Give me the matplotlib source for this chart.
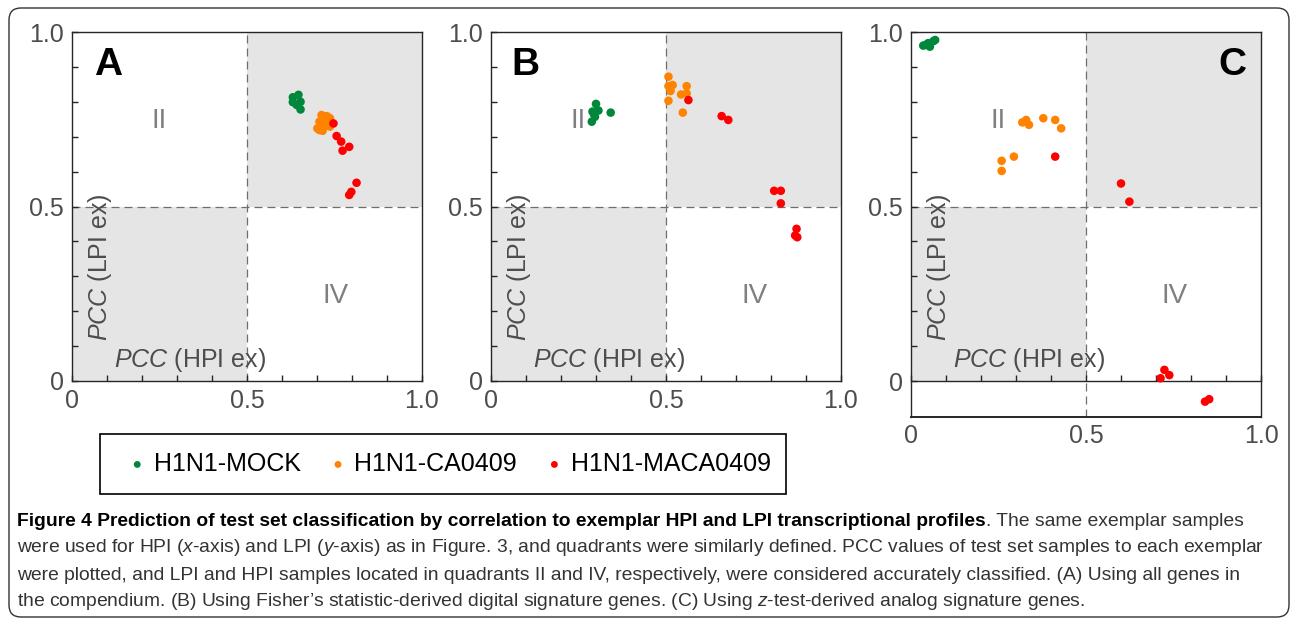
import numpy as np
import matplotlib
matplotlib.use('Agg')
import matplotlib.pyplot as plt
from matplotlib.patches import Rectangle, FancyBboxPatch

plt.rcParams['font.family'] = ['Liberation Sans', 'DejaVu Sans']
plt.rcParams['mathtext.fontset'] = 'custom'
plt.rcParams['mathtext.rm'] = 'Liberation Sans'
plt.rcParams['mathtext.it'] = 'Liberation Sans:italic'
plt.rcParams['mathtext.bf'] = 'Liberation Sans:bold'

groups = ['H1N1-MOCK', 'H1N1-CA0409', 'H1N1-MACA0409']
colors = ['#00873c', '#ff8200', '#ff0000']

# panel A : all genes
a_mock_x = [0.631, 0.647, 0.653, 0.642, 0.653, 0.631]
a_mock_y = [0.813, 0.820, 0.800, 0.791, 0.778, 0.799]
a_ca_x = [0.713, 0.728, 0.737, 0.707, 0.718, 0.732, 0.701, 0.713, 0.723, 0.707, 0.737, 0.716]
a_ca_y = [0.762, 0.759, 0.753, 0.743, 0.748, 0.738, 0.724, 0.729, 0.731, 0.719, 0.729, 0.717]
a_maca_x = [0.747, 0.756, 0.769, 0.792, 0.773, 0.813, 0.798, 0.792]
a_maca_y = [0.738, 0.702, 0.686, 0.671, 0.660, 0.568, 0.542, 0.533]

# panel B : Fisher digital signature genes
b_mock_x = [0.300, 0.290, 0.307, 0.297, 0.288, 0.342, 0.294]
b_mock_y = [0.794, 0.772, 0.775, 0.757, 0.743, 0.769, 0.765]
b_ca_x = [0.507, 0.507, 0.519, 0.513, 0.559, 0.543, 0.559, 0.507, 0.548]
b_ca_y = [0.872, 0.845, 0.848, 0.831, 0.845, 0.821, 0.824, 0.803, 0.769]
b_maca_x = [0.564, 0.659, 0.678, 0.809, 0.828, 0.828, 0.873, 0.869, 0.875]
b_maca_y = [0.805, 0.759, 0.748, 0.545, 0.545, 0.509, 0.436, 0.417, 0.412]

# panel C : z-test analog signature genes
c_mock_x = [0.035, 0.049, 0.064, 0.054, 0.069, 0.042]
c_mock_y = [0.961, 0.968, 0.974, 0.958, 0.977, 0.963]
c_ca_x = [0.259, 0.259, 0.294, 0.318, 0.329, 0.337, 0.378, 0.412, 0.429]
c_ca_y = [0.631, 0.602, 0.643, 0.741, 0.748, 0.734, 0.753, 0.748, 0.724]
c_maca_x = [0.412, 0.600, 0.624, 0.713, 0.724, 0.738, 0.840, 0.852]
c_maca_y = [0.643, 0.566, 0.514, 0.008, 0.032, 0.017, -0.059, -0.052]

panels = [
    ('A', [(a_mock_x, a_mock_y), (a_ca_x, a_ca_y), (a_maca_x, a_maca_y)]),
    ('B', [(b_mock_x, b_mock_y), (b_ca_x, b_ca_y), (b_maca_x, b_maca_y)]),
    ('C', [(c_mock_x, c_mock_y), (c_ca_x, c_ca_y), (c_maca_x, c_maca_y)]),
]

W, H = 1293, 619
fig = plt.figure(figsize=(W / 100, H / 100), dpi=100)

# axes boxes in pixels (left, top, right, bottom)
boxes = [(72, 32, 422, 381), (491, 32, 841, 381), (911, 32, 1261, 417)]
letter_x = [0.102, 0.097, 0.917]
ylims = [(0, 1), (0, 1), (-0.103, 1)]

spine_col = '#262626'
handles = []
for (name, series), (l, t, r, b), lx, yl in zip(panels, boxes, letter_x, ylims):
    ax = fig.add_axes([l / W, 1 - b / H, (r - l) / W, (b - t) / H])
    ax.set_xlim(0, 1)
    ax.set_ylim(*yl)

    # shaded quadrants I and III
    ax.add_patch(Rectangle((0, 0), 0.5, 0.5, fc='#e5e5e5', ec='none', zorder=0))
    ax.add_patch(Rectangle((0.5, 0.5), 0.5, 0.5, fc='#e5e5e5', ec='none', zorder=0))
    ax.axvline(0.5, color='#6e6e6e', lw=0.9, ls=(0, (6.4, 4.0)), zorder=1)
    ax.axhline(0.5, color='#6e6e6e', lw=0.9, ls=(0, (6.4, 4.0)), zorder=1)

    hs = []
    for (xs, ys), col in zip(series, colors):
        hs.append(ax.scatter(xs, ys, s=38, c=col, edgecolors='none', zorder=3))
    if not handles:
        handles = hs

    ax.set_xticks([0, 0.5, 1.0])
    ax.set_xticklabels(['0', '0.5', '1.0'])
    ax.set_xticks(np.arange(1, 10) / 10, minor=True)
    ax.set_yticks([0, 0.5, 1.0])
    ax.set_yticklabels(['0', '0.5', '1.0'])
    ax.set_yticks(np.arange(1, 10) / 10, minor=True)
    ax.tick_params(which='both', direction='in', length=4, width=1.0, color=spine_col,
                   labelsize=18, labelcolor='#4d4d4d', pad=6)
    for sp in ax.spines.values():
        sp.set_color(spine_col)
        sp.set_linewidth(1.0)

    if name == 'C':
        # x axis drawn through y = 0, frame closed below
        ax.spines['bottom'].set_position(('data', 0))
        ax.tick_params(axis='x', which='both', pad=31)
        ax.axhline(yl[0], color=spine_col, lw=1.4, clip_on=False)

    ax.text(0.25, 0.745, 'II', ha='center', va='center', fontsize=20, color='#808080')
    ax.text(0.752, 0.243, 'IV', ha='center', va='center', fontsize=20, color='#808080')
    ax.text(lx, 0.905, name, ha='center', va='center', fontsize=28, fontweight='bold', color='black')
    ax.text(0.08, 0.327, r'$\mathit{PCC}$ (LPI ex)', rotation=90, ha='center', va='center',
            fontsize=18, color='#4d4d4d')
    ax.text(0.336, 0.06, r'$\mathit{PCC}$ (HPI ex)', ha='center', va='center',
            fontsize=18, color='#4d4d4d')

# legend box
fig.patches.append(Rectangle((100 / W, 1 - 494 / H), 686 / W, 60 / H, fill=False,
                             ec='black', lw=1.2, transform=fig.transFigure))
fig.legend(handles, groups, loc='center left', bbox_to_anchor=(131 / W, 1 - 464 / H),
           ncol=3, frameon=False, fontsize=18, markerscale=0.8, scatterpoints=1,
           handlelength=0.5, handletextpad=0.4, columnspacing=1.25,
           borderpad=0, borderaxespad=0)

# caption
cap_font = ['Liberation Sans Narrow', 'Liberation Sans', 'DejaVu Sans']
bold_part = ('Figure 4 Prediction of test set classification by correlation to exemplar '
             'HPI and LPI transcriptional profiles')
lines = [
    '. The same exemplar samples',
    'were used for HPI ($x$-axis) and LPI ($y$-axis) as in Figure. 3, and quadrants were '
    'similarly defined. PCC values of test set samples to each exemplar',
    'were plotted, and LPI and HPI samples located in quadrants II and IV, respectively, were '
    'considered accurately classified. (A) Using all genes in',
    'the compendium. (B) Using Fisher\u2019s statistic-derived digital signature genes. '
    '(C) Using $z$-test-derived analog signature genes.',
]
line_y = [521, 548, 575, 602]
x0 = 17

renderer = fig.canvas.get_renderer()
probe = fig.text(0, 0, lines[1], fontsize=12, family=cap_font)
w = probe.get_window_extent(renderer).width
probe.remove()
cap_size = 12 * 1245 / w

tb = fig.text(x0 / W, 1 - line_y[0] / H, bold_part, fontsize=cap_size, family=cap_font,
              fontweight='bold', color='black', va='center')
bw = tb.get_window_extent(renderer).width
fig.text((x0 + bw) / W, 1 - line_y[0] / H, lines[0], fontsize=cap_size, family=cap_font,
         color='#333333', va='center')
for txt, yy in zip(lines[1:], line_y[1:]):
    fig.text(x0 / W, 1 - yy / H, txt, fontsize=cap_size, family=cap_font,
             color='#333333', va='center')

# rounded outer frame
fig.patches.append(FancyBboxPatch((9 / 100, 2 / 100), 1280 / 100, 609 / 100,
                                  boxstyle='round,pad=0,rounding_size=0.12',
                                  fill=False, ec='#333333', lw=1.0,
                                  transform=fig.dpi_scale_trans))

fig.savefig('out.png', dpi=100)
